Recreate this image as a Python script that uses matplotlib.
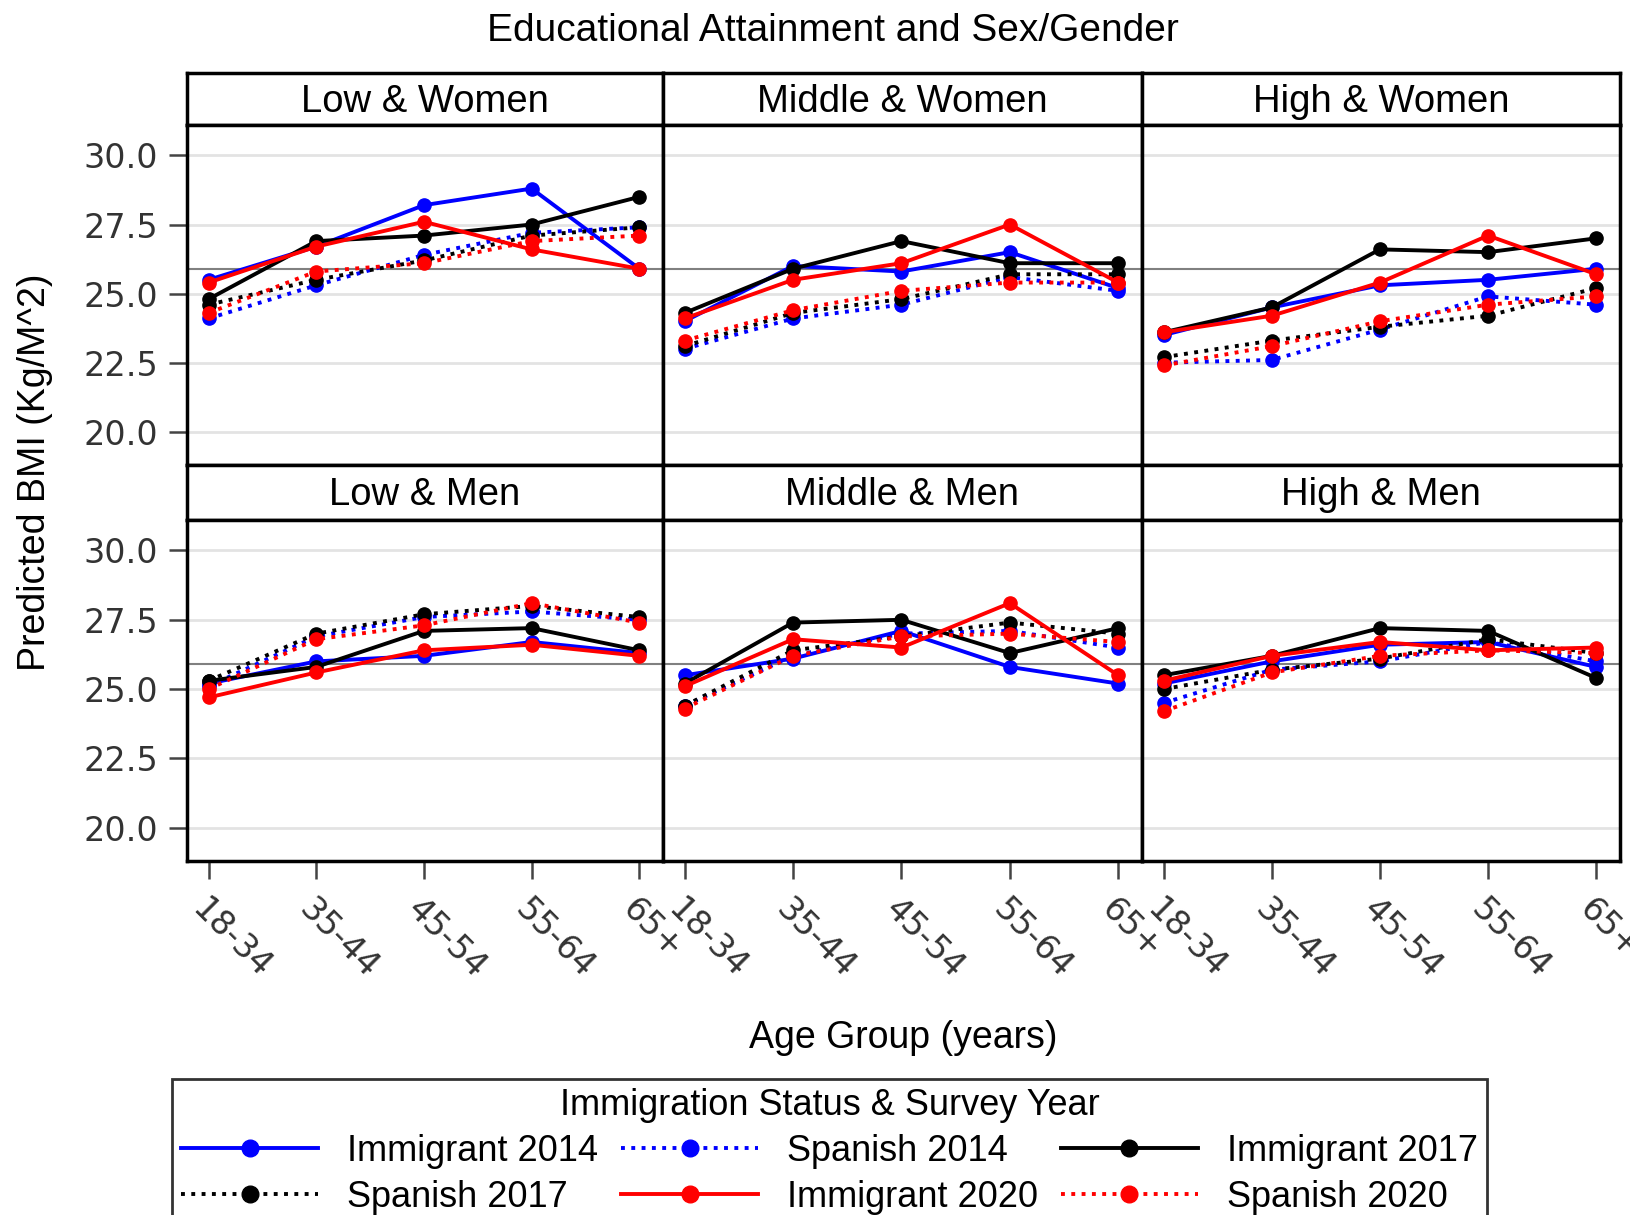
import matplotlib
matplotlib.use('Agg')
import matplotlib.pyplot as plt
from matplotlib.lines import Line2D

ages = ['18-34', '35-44', '45-54', '55-64', '65+']
panels = ['Low & Women', 'Middle & Women', 'High & Women',
          'Low & Men', 'Middle & Men', 'High & Men']
ref_bmi = 25.9

# one row per panel, same order as panels
imm2014 = [[25.5, 26.7, 28.2, 28.8, 25.9],
           [24.0, 26.0, 25.8, 26.5, 25.2],
           [23.5, 24.5, 25.3, 25.5, 25.9],
           [25.2, 26.0, 26.2, 26.7, 26.3],
           [25.5, 26.1, 27.1, 25.8, 25.2],
           [25.2, 26.0, 26.6, 26.7, 25.8]]
spa2014 = [[24.1, 25.3, 26.4, 27.2, 27.4],
           [23.0, 24.1, 24.6, 25.6, 25.1],
           [22.5, 22.6, 23.7, 24.9, 24.6],
           [25.1, 26.9, 27.6, 27.8, 27.5],
           [24.4, 26.2, 27.0, 27.1, 26.5],
           [24.5, 25.7, 26.0, 26.7, 26.0]]
imm2017 = [[24.8, 26.9, 27.1, 27.5, 28.5],
           [24.3, 25.9, 26.9, 26.1, 26.1],
           [23.6, 24.5, 26.6, 26.5, 27.0],
           [25.3, 25.8, 27.1, 27.2, 26.4],
           [25.2, 27.4, 27.5, 26.3, 27.2],
           [25.5, 26.2, 27.2, 27.1, 25.4]]
spa2017 = [[24.6, 25.5, 26.2, 27.1, 27.4],
           [23.1, 24.3, 24.8, 25.7, 25.7],
           [22.7, 23.3, 23.8, 24.2, 25.2],
           [25.3, 27.0, 27.7, 28.0, 27.6],
           [24.4, 26.4, 26.9, 27.4, 27.0],
           [25.0, 25.7, 26.1, 26.8, 26.3]]
imm2020 = [[25.4, 26.7, 27.6, 26.6, 25.9],
           [24.1, 25.5, 26.1, 27.5, 25.4],
           [23.6, 24.2, 25.4, 27.1, 25.7],
           [24.7, 25.6, 26.4, 26.6, 26.2],
           [25.1, 26.8, 26.5, 28.1, 25.5],
           [25.3, 26.2, 26.7, 26.4, 26.5]]
spa2020 = [[24.3, 25.8, 26.1, 26.9, 27.1],
           [23.3, 24.4, 25.1, 25.4, 25.4],
           [22.4, 23.1, 24.0, 24.6, 24.9],
           [25.0, 26.8, 27.3, 28.1, 27.4],
           [24.3, 26.2, 26.9, 27.0, 26.7],
           [24.2, 25.6, 26.2, 26.4, 26.3]]

series = [('Immigrant 2014', imm2014, 'blue', '-'),
          ('Spanish 2014', spa2014, 'blue', ':'),
          ('Immigrant 2017', imm2017, 'black', '-'),
          ('Spanish 2017', spa2017, 'black', ':'),
          ('Immigrant 2020', imm2020, 'red', '-'),
          ('Spanish 2020', spa2020, 'red', ':')]

W, H = 1631, 1215
fig = plt.figure(figsize=(W/100, H/100), dpi=100)
txt = 'Liberation Sans'

def fx(px): return px/W
def fy(py): return 1-py/H

cols = [(187, 663), (663, 1142), (1142, 1620)]
rows = [(73, 125, 465), (465, 520, 861)]   # header top, panel top, panel bottom
xs = list(range(len(ages)))

for r in range(2):
    for c in range(3):
        k = r*3+c
        x0, x1 = cols[c]; ht, pt, pb = rows[r]
        hax = fig.add_axes([fx(x0), fy(pt), fx(x1-x0), (pt-ht)/H])
        hax.set_xticks([]); hax.set_yticks([])
        for s in hax.spines.values(): s.set_linewidth(2.5)
        hax.text(0.5, 0.45, panels[k], ha='center', va='center', fontsize=27.5,
                 family=txt, transform=hax.transAxes)

        ax = fig.add_axes([fx(x0), fy(pb), fx(x1-x0), (pb-pt)/H])
        for s in ax.spines.values(): s.set_linewidth(2.5)
        ax.set_xlim(-0.2, 4.22)
        ax.set_ylim(18.8, 31.1)
        ax.set_yticks([20.0, 22.5, 25.0, 27.5, 30.0])
        ax.grid(axis='y', color='#e3e3e3', lw=2)
        ax.set_axisbelow(True)
        ax.axhline(ref_bmi, color='#808080', lw=1.5, zorder=1)
        for name, vals, col, ls in series:
            ax.plot(xs, vals[k], color=col, ls=ls, lw=2.8, marker='o', ms=9.5, zorder=3)
        ax.tick_params(axis='y', length=13, width=1.8, color='#444444', labelsize=24, pad=8)
        if c == 0:
            ax.set_yticklabels(['%.1f' % v for v in ax.get_yticks()], family='DejaVu Sans',
                               color='#333333')
        else:
            ax.tick_params(axis='y', left=False, labelleft=False)
        ax.set_xticks(xs)
        if r == 1:
            ax.tick_params(axis='x', length=13, width=1.8, color='#444444', labelsize=24, pad=10)
            ax.set_xticklabels(ages, rotation=-45, ha='left', va='top',
                               rotation_mode='anchor', family='DejaVu Sans', color='#333333')
        else:
            ax.tick_params(axis='x', bottom=False, labelbottom=False)

fig.text(fx(833), fy(31), 'Educational Attainment and Sex/Gender',
         ha='center', va='center', fontsize=28, family=txt)
fig.text(fx(903), fy(1038), 'Age Group (years)', ha='center', va='center',
         fontsize=27, family=txt)
fig.text(fx(35), fy(472), 'Predicted BMI (Kg/M^2)', rotation=90, ha='center',
         va='center', fontsize=27, family=txt)

handles = {}
for name, vals, col, ls in series:
    handles[name] = Line2D([], [], color=col, ls=ls, lw=2.8, marker='o', ms=12)
order = ['Immigrant 2014', 'Spanish 2017', 'Spanish 2014', 'Immigrant 2020',
         'Immigrant 2017', 'Spanish 2020']
leg = fig.legend([handles[n] for n in order], order, ncol=3, loc='upper left',
                 bbox_to_anchor=(fx(172), 0, fx(1487-172), fy(1079)), mode='expand',
                 title='Immigration Status & Survey Year', fancybox=False,
                 edgecolor='black', handlelength=3.8, labelspacing=0.3, borderpad=0.25,
                 borderaxespad=0, prop={'family': txt, 'size': 26},
                 title_fontproperties={'family': txt, 'size': 26})
leg.get_frame().set_linewidth(2)

fig.savefig('out.png', dpi=100)
